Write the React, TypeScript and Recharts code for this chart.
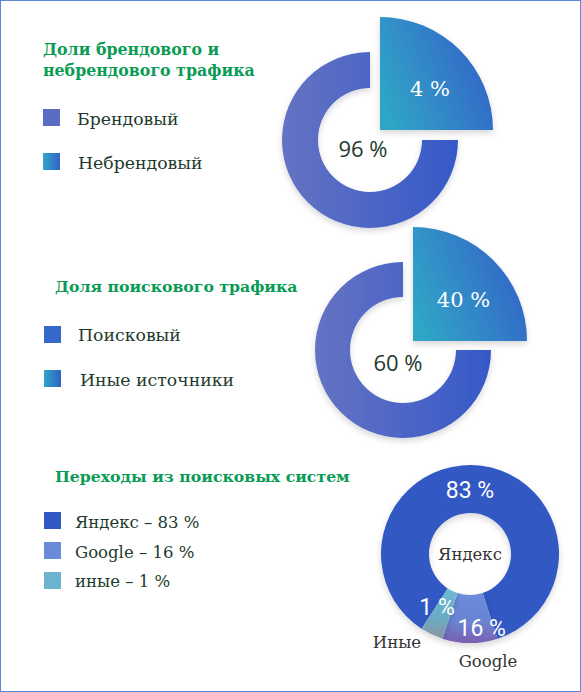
import React from 'react';
import { PieChart, Pie, Cell } from 'recharts';

// Доли брендового и небрендового трафика
const brandNames = ['Брендовый', 'Небрендовый'];
const brandValues = [96, 4];

// Доля поискового трафика
const searchNames = ['Поисковый', 'Иные источники'];
const searchValues = [60, 40];

// Переходы из поисковых систем
const engineNames = ['Яндекс', 'Google', 'Иные'];
const engineLegend = ['Яндекс', 'Google', 'иные'];
const engineValues = [83, 16, 1];
// arc sizes as drawn in the infographic (degrees), the picture is not proportional
const engineArcs = [309, 36, 15];
// ring + exploded quarter, as drawn (degrees)
const splitArcs = [270, 90];

const W = 581;
const H = 692;
const RAD = Math.PI / 180;

const green = '#0a9b55';
const textDark = '#1d3a2b';
const serif = '"DejaVu Serif", serif';

const polar = (cx: number, cy: number, r: number, angle: number) => [
  cx + r * Math.cos(-angle * RAD),
  cy + r * Math.sin(-angle * RAD),
];

const ringLabel = (dx: number, dy: number) => (props: any) => (
  <text
    x={props.cx + dx}
    y={props.cy + dy}
    textAnchor="middle"
    dominantBaseline="central"
    fill={textDark}
    fontFamily='"Open Sans", sans-serif'
    fontSize={22}
  >
    {props.payload.value} %
  </text>
);

// label sits a little below the middle of the quarter
const quarterLabel = (props: any) => {
  const [x, y] = polar(props.cx, props.cy, props.outerRadius * 0.57, props.midAngle - 6);
  return (
    <text x={x} y={y} textAnchor="middle" dominantBaseline="central" fill="#fff" fontFamily={serif} fontSize={21}>
      {props.payload.value} %
    </text>
  );
};

// where the engine labels sit (angle, radius from center)
const engineValueAt = [
  { angle: 90, r: 64 },
  { angle: 279, r: 75 },
  { angle: 238.5, r: 63 },
];
const engineNameAt = [
  { angle: 0, r: 0 },
  { angle: 279.5, r: 109 },
  { angle: 230.6, r: 115 },
];

const engineLabel = (props: any) => {
  const i = props.index;
  const [vx, vy] = polar(props.cx, props.cy, engineValueAt[i].r, engineValueAt[i].angle);
  const [nx, ny] = polar(props.cx, props.cy, engineNameAt[i].r, engineNameAt[i].angle);
  return (
    <g>
      <text x={vx} y={vy} textAnchor="middle" dominantBaseline="central" fill="#fff" fontFamily="Roboto, sans-serif" fontSize={23}>
        {props.payload.value} %
      </text>
      <text x={nx} y={ny} textAnchor="middle" dominantBaseline="central" fill="#333" fontFamily={serif} fontSize={16.5}>
        {props.payload.name}
      </text>
    </g>
  );
};

function SplitDonut({ names, values, cx, cy, dx, dy, inner, outer, quarter, labelDx, labelDy }: any) {
  const ring = [{ name: names[0], value: values[0], arc: splitArcs[0] }];
  const piece = [{ name: names[1], value: values[1], arc: splitArcs[1] }];
  return (
    <>
      <Pie
        data={ring}
        dataKey="arc"
        cx={cx}
        cy={cy}
        innerRadius={inner}
        outerRadius={outer}
        startAngle={90}
        endAngle={90 + splitArcs[0]}
        stroke="none"
        label={ringLabel(labelDx, labelDy)}
        labelLine={false}
        isAnimationActive={false}
      >
        <Cell fill="url(#ringGrad)" filter="url(#softShadow)" />
      </Pie>
      <Pie
        data={piece}
        dataKey="arc"
        cx={cx + dx}
        cy={cy + dy}
        innerRadius={0}
        outerRadius={quarter}
        startAngle={0}
        endAngle={splitArcs[1]}
        stroke="none"
        label={quarterLabel}
        labelLine={false}
        isAnimationActive={false}
      >
        <Cell fill="url(#quarterGrad)" filter="url(#softShadow)" />
      </Pie>
    </>
  );
}

const engineData = engineNames.map((name, i) => ({ name, value: engineValues[i], arc: engineArcs[i] }));
const engineFills = ['#3159c4', 'url(#googleGrad)', 'url(#otherGrad)'];
const engineSwatches = ['#3159c4', '#6a8bd8', '#6cb4cd'];

function Swatch({ x, y, fill }: any) {
  return <rect x={x} y={y} width={17} height={17} fill={fill} />;
}

export default function App() {
  return (
    <div style={{ position: 'absolute', left: 0, top: 0, width: W, height: H, background: '#fff' }}>
      <PieChart width={W} height={H} margin={{ top: 0, right: 0, bottom: 0, left: 0 }} style={{ position: 'absolute', left: 0, top: 0 }}>
        <defs>
          <linearGradient id="ringGrad" x1="0" y1="0" x2="1" y2="0">
            <stop offset="0%" stopColor="#6573c3" />
            <stop offset="100%" stopColor="#3559c8" />
          </linearGradient>
          <linearGradient id="quarterGrad" x1="0" y1="0.75" x2="1" y2="0.35">
            <stop offset="0%" stopColor="#2fa6c6" />
            <stop offset="100%" stopColor="#3262c8" />
          </linearGradient>
          <linearGradient id="googleGrad" x1="0" y1="0" x2="0" y2="1">
            <stop offset="0%" stopColor="#6a8ddb" />
            <stop offset="60%" stopColor="#6a82d2" />
            <stop offset="100%" stopColor="#7a5fb0" />
          </linearGradient>
          <linearGradient id="otherGrad" x1="0" y1="0" x2="0" y2="1">
            <stop offset="0%" stopColor="#6cbad2" />
            <stop offset="60%" stopColor="#6aaac4" />
            <stop offset="100%" stopColor="#8c96a0" />
          </linearGradient>
          <filter id="softShadow" x="-20%" y="-20%" width="140%" height="150%">
            <feDropShadow dx="0" dy="3" stdDeviation="3" floodColor="#000" floodOpacity="0.16" />
          </filter>
        </defs>
        {SplitDonut({ names: brandNames, values: brandValues, cx: 370, cy: 140, dx: 10, dy: -10, inner: 52, outer: 88, quarter: 113, labelDx: -7, labelDy: 8 })}
        {SplitDonut({ names: searchNames, values: searchValues, cx: 403, cy: 350, dx: 10, dy: -9, inner: 53, outer: 88, quarter: 114, labelDx: -5, labelDy: 12 })}
        <Pie
          data={engineData}
          dataKey="arc"
          cx={470}
          cy={554}
          innerRadius={41}
          outerRadius={89}
          startAngle={237 + 360}
          endAngle={237}
          stroke="none"
          label={engineLabel}
          labelLine={false}
          isAnimationActive={false}
        >
          {engineData.map((d, i) => (
            <Cell key={d.name} fill={engineFills[i]} filter="url(#softShadow)" />
          ))}
        </Pie>
      </PieChart>

      <svg width={W} height={H} style={{ position: 'absolute', left: 0, top: 0, pointerEvents: 'none' }}>
        <defs>
          <linearGradient id="swatchGrad" x1="0" y1="0" x2="1" y2="0">
            <stop offset="0%" stopColor="#2fa6c6" />
            <stop offset="100%" stopColor="#3262c8" />
          </linearGradient>
        </defs>
        <g fontFamily={serif}>
          <text x={43} y={55} fill={green} fontWeight="bold" fontSize={15.8}>Доли брендового и</text>
          <text x={43} y={76} fill={green} fontWeight="bold" fontSize={15.8}>небрендового трафика</text>
          <Swatch x={43} y={109} fill="#5b6cc3" />
          <text x={77} y={125} fill={textDark} fontSize={17.3}>{brandNames[0]}</text>
          <Swatch x={43} y={153} fill="url(#swatchGrad)" />
          <text x={78} y={169} fill={textDark} fontSize={17.3}>{brandNames[1]}</text>

          <text x={55} y={292} fill={green} fontWeight="bold" fontSize={15.7}>Доля поискового трафика</text>
          <Swatch x={44} y={326} fill="#3468c9" />
          <text x={78} y={341} fill={textDark} fontSize={17.3}>{searchNames[0]}</text>
          <Swatch x={44} y={370} fill="url(#swatchGrad)" />
          <text x={80} y={386} fill={textDark} fontSize={17.3}>{searchNames[1]}</text>

          <text x={55} y={482} fill={green} fontWeight="bold" fontSize={15.7}>Переходы из поисковых систем</text>
          {engineLegend.map((name, i) => (
            <g key={name}>
              <Swatch x={44} y={512 + i * 30} fill={engineSwatches[i]} />
              <text x={75} y={528 + i * 29.5} fill={textDark} fontSize={16.5}>
                {name} – {engineValues[i]} %
              </text>
            </g>
          ))}
        </g>
      </svg>

      <div style={{ position: 'absolute', left: 0, top: 0, width: W, height: H, boxSizing: 'border-box', border: '1px solid #5b87d9', pointerEvents: 'none' }} />
    </div>
  );
}
